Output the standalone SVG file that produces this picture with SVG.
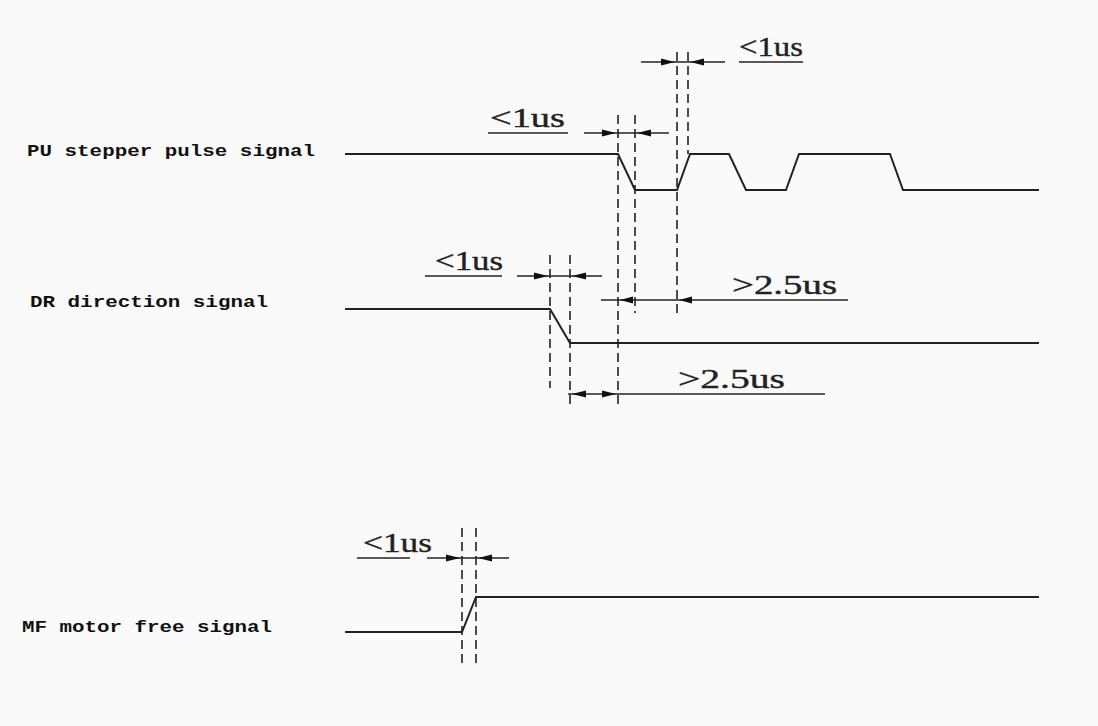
<svg xmlns="http://www.w3.org/2000/svg" width="1098" height="726" viewBox="0 0 1098 726">
<style>
.sig{fill:none;stroke:#222;stroke-width:2;stroke-linejoin:miter}
.dash{fill:none;stroke:#222;stroke-width:1.6;stroke-dasharray:9 5}
.dim{fill:none;stroke:#222;stroke-width:1.4}
.ah{fill:#111}
.lbl{font-family:"Liberation Mono",monospace;font-size:16px;font-weight:bold;fill:#111}
.val{font-family:"Liberation Serif",serif;font-size:28px;fill:#222;stroke:#222;stroke-width:0.4}
</style>
<rect width="1098" height="726" fill="#fafafa"/>
<g id="pu-signal">
<text class="lbl" x="27" y="156" textLength="288" lengthAdjust="spacingAndGlyphs">PU stepper pulse signal</text>
<polyline class="sig" points="345,154 618,154 635,190 677,190 690,154 729,154 746,190 786,190 799,154 890,154 903,190 1039,190"/>
</g>
<g id="dr-signal">
<text class="lbl" x="30" y="307" textLength="238" lengthAdjust="spacingAndGlyphs">DR direction signal</text>
<polyline class="sig" points="345,309 550,309 570,343 1039,343"/>
</g>
<g id="mf-signal">
<text class="lbl" x="22" y="632" textLength="250" lengthAdjust="spacingAndGlyphs">MF motor free signal</text>
<polyline class="sig" points="345,632 462,632 476,597 1039,597"/>
</g>
<g id="connectors">
<line class="dash" x1="618" y1="115" x2="618" y2="407"/>
<line class="dash" x1="635" y1="115" x2="635" y2="313"/>
<line class="dash" x1="677" y1="52" x2="677" y2="317"/>
<line class="dash" x1="688" y1="52" x2="688" y2="154"/>
<line class="dash" x1="550" y1="255" x2="550" y2="388"/>
<line class="dash" x1="570" y1="255" x2="570" y2="407"/>
<line class="dash" x1="462" y1="528" x2="462" y2="667"/>
<line class="dash" x1="476" y1="528" x2="476" y2="667"/>
</g>
<g id="dim-pu-top">
<line class="dim" x1="641" y1="62" x2="725" y2="62"/>
<polygon class="ah" points="675,62 661,58.5 661,65.5"/>
<polygon class="ah" points="690,62 704,58.5 704,65.5"/>
<text class="val" x="739" y="56" textLength="64" lengthAdjust="spacingAndGlyphs">&lt;1us</text>
<line class="dim" x1="739" y1="62" x2="803" y2="62"/>
</g>
<g id="dim-pu-fall">
<line class="dim" x1="584" y1="133" x2="669" y2="133"/>
<polygon class="ah" points="616,133 602,129.5 602,136.5"/>
<polygon class="ah" points="637,133 651,129.5 651,136.5"/>
<text class="val" x="490" y="127" textLength="75" lengthAdjust="spacingAndGlyphs">&lt;1us</text>
<line class="dim" x1="488" y1="133" x2="568" y2="133"/>
</g>
<g id="dim-dr-fall">
<line class="dim" x1="517" y1="276" x2="602" y2="276"/>
<polygon class="ah" points="548,276 534,272.5 534,279.5"/>
<polygon class="ah" points="572,276 586,272.5 586,279.5"/>
<text class="val" x="435" y="270" textLength="68" lengthAdjust="spacingAndGlyphs">&lt;1us</text>
<line class="dim" x1="425" y1="276" x2="502" y2="276"/>
</g>
<g id="dim-setup-pu">
<line class="dim" x1="601" y1="300" x2="848" y2="300"/>
<polygon class="ah" points="620,300 633,296.5 633,303.5"/>
<polygon class="ah" points="679,300 692,296.5 692,303.5"/>
<text class="val" x="732" y="294" textLength="105" lengthAdjust="spacingAndGlyphs">&gt;2.5us</text>
</g>
<g id="dim-setup-dr">
<line class="dim" x1="568" y1="394" x2="825" y2="394"/>
<polygon class="ah" points="572,394 586,390.5 586,397.5"/>
<polygon class="ah" points="616,394 602,390.5 602,397.5"/>
<text class="val" x="678" y="388" textLength="107" lengthAdjust="spacingAndGlyphs">&gt;2.5us</text>
</g>
<g id="dim-mf">
<line class="dim" x1="427" y1="558" x2="509" y2="558"/>
<polygon class="ah" points="460,558 446,554.5 446,561.5"/>
<polygon class="ah" points="478,558 492,554.5 492,561.5"/>
<text class="val" x="363" y="552" textLength="69" lengthAdjust="spacingAndGlyphs">&lt;1us</text>
<line class="dim" x1="357" y1="558" x2="410" y2="558"/>
</g>
</svg>
